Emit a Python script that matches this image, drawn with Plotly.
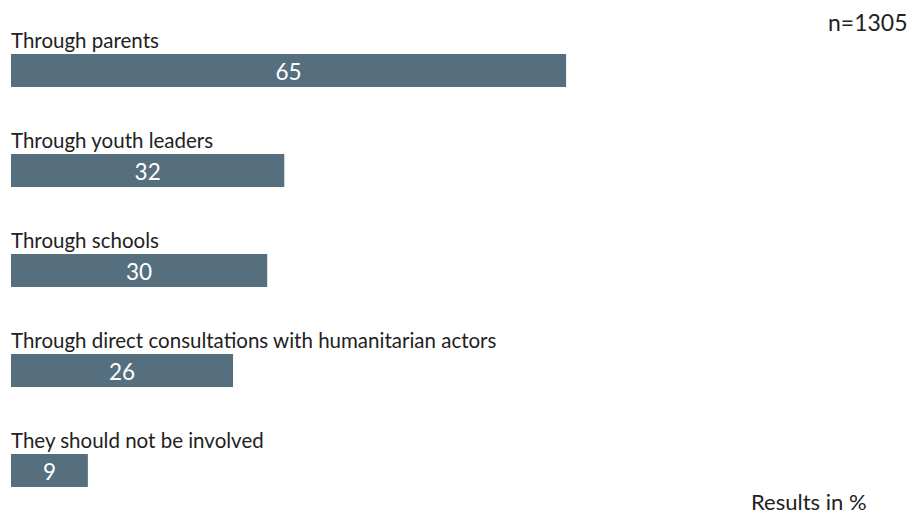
import plotly.graph_objects as go

categories = [
    "Through parents",
    "Through youth leaders",
    "Through schools",
    "Through direct consultations with humanitarian actors",
    "They should not be involved",
]
values = [65, 32, 30, 26, 9]
sample_note = "n=1305"
unit_note = "Results in %"

BAR_COLOR = "#556f7f"
TEXT_COLOR = "#222222"
FONT = "Lato, 'Noto Sans', sans-serif"

fig = go.Figure(
    go.Bar(
        x=values,
        y=categories,
        orientation="h",
        marker=dict(color=BAR_COLOR, line=dict(width=0)),
        width=0.33,
        text=[str(v) for v in values],
        textposition="inside",
        insidetextanchor="middle",
        textangle=0,
        textfont=dict(color="white", size=25, family=FONT),
        hoverinfo="skip",
    )
)

# Category labels sit above each bar, left-aligned with the bar start
for cat in categories:
    fig.add_annotation(
        x=0, y=cat, xref="x", yref="y",
        text=cat, showarrow=False,
        xanchor="left", yanchor="middle",
        yshift=31, xshift=-2,
        font=dict(size=20.5, color=TEXT_COLOR, family=FONT),
    )

fig.add_annotation(
    x=1, y=1, xref="paper", yref="paper",
    text=sample_note, showarrow=False,
    xanchor="right", yanchor="middle",
    xshift=45, yshift=-22,
    font=dict(size=23, color=TEXT_COLOR, family=FONT),
)
fig.add_annotation(
    x=1, y=0, xref="paper", yref="paper",
    text=unit_note, showarrow=False,
    xanchor="right", yanchor="bottom",
    xshift=3, yshift=0, borderpad=0,
    font=dict(size=22, color=TEXT_COLOR, family=FONT),
)

fig.update_layout(
    width=910,
    height=516,
    margin=dict(l=11, r=45, t=0, b=0),
    paper_bgcolor="white",
    plot_bgcolor="white",
    showlegend=False,
    xaxis=dict(range=[0, 100], visible=False, fixedrange=True),
    yaxis=dict(
        type="category",
        categoryorder="array",
        categoryarray=categories,
        range=[4.455, -0.705],
        visible=False,
        fixedrange=True,
    ),
)

fig.write_html("out.html")
